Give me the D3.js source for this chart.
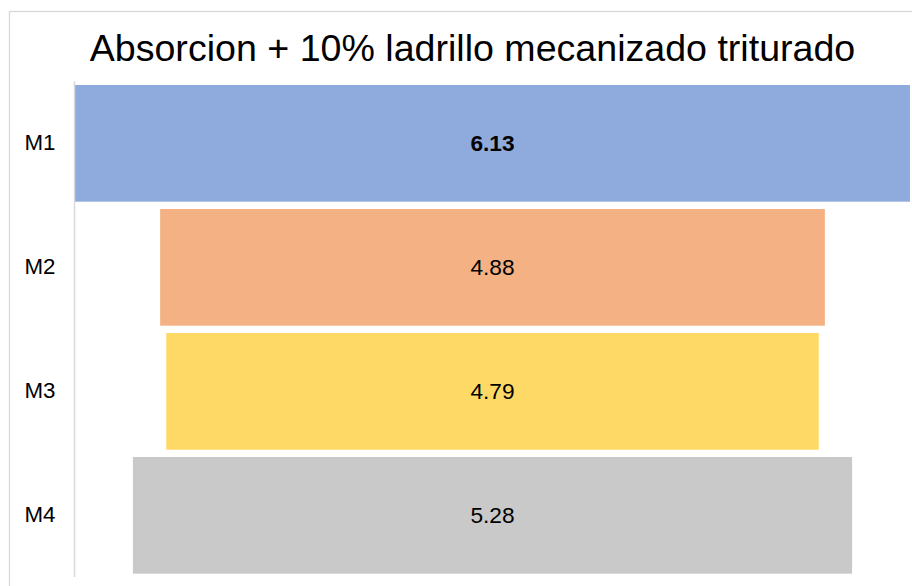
<!DOCTYPE html>
<html>
<head>
<meta charset="utf-8">
<script src="https://cdn.jsdelivr.net/npm/d3@7"></script>
<style>
  html, body { margin: 0; padding: 0; background: #ffffff; }
  svg { display: block; }
  text { font-family: "Liberation Sans", Arial, sans-serif; }
</style>
</head>
<body>
<svg id="chart" width="912" height="586"></svg>
<script>
const titleText = "Absorcion + 10% ladrillo mecanizado triturado";
const categories = ["M1", "M2", "M3", "M4"];
const values = [6.13, 4.88, 4.79, 5.28];
const colors = ["#8FAADC", "#F4B183", "#FFD966", "#C9C9C9"];
const boldLabel = [true, false, false, false];

const svg = d3.select("#chart");

// chart frame (cropped on the right and bottom)
svg.append("rect")
  .attr("x", 9.5).attr("y", 11.5)
  .attr("width", 1000).attr("height", 700)
  .attr("fill", "#ffffff")
  .attr("stroke", "#D9D9D9").attr("stroke-width", 1.3);

// title
svg.append("text")
  .attr("x", 472.5).attr("y", 60.7)
  .attr("text-anchor", "middle")
  .attr("font-size", "37.6px")
  .attr("fill", "#000000")
  .text(titleText);

const plotLeft = 75, plotRight = 910;
const cx = (plotLeft + plotRight) / 2;

const y = d3.scaleBand()
  .domain(categories)
  .range([81.35, 577.35])
  .paddingInner(0.059)
  .paddingOuter(0.0295);

const w = d3.scaleLinear()
  .domain([0, d3.max(values)])
  .range([0, plotRight - plotLeft]);

const data = categories.map((c, i) => ({ cat: c, v: values[i], color: colors[i], bold: boldLabel[i] }));

// bars
svg.append("g").selectAll("rect")
  .data(data)
  .join("rect")
  .attr("x", d => cx - w(d.v) / 2)
  .attr("y", d => y(d.cat))
  .attr("width", d => w(d.v))
  .attr("height", y.bandwidth())
  .attr("fill", d => d.color);

// category axis
const axis = d3.axisLeft(y).tickSize(0).tickPadding(19);
const gAxis = svg.append("g")
  .attr("transform", `translate(${plotLeft - 0.5},0)`)
  .call(axis);
gAxis.select(".domain")
  .attr("d", `M0,81.5V577`)
  .attr("stroke", "#D9D9D9")
  .attr("stroke-width", 1.5);
gAxis.selectAll(".tick text")
  .attr("font-size", "22.3px")
  .attr("font-family", "\"Liberation Sans\", Arial, sans-serif")
  .attr("fill", "#000000");

// value labels
svg.append("g").selectAll("text")
  .data(data)
  .join("text")
  .attr("x", cx)
  .attr("y", d => y(d.cat) + y.bandwidth() / 2)
  .attr("dy", "0.35em")
  .attr("text-anchor", "middle")
  .attr("font-size", "22.7px")
  .attr("font-weight", d => d.bold ? "bold" : "normal")
  .attr("fill", "#000000")
  .text(d => d.v.toFixed(2));
</script>
</body>
</html>
